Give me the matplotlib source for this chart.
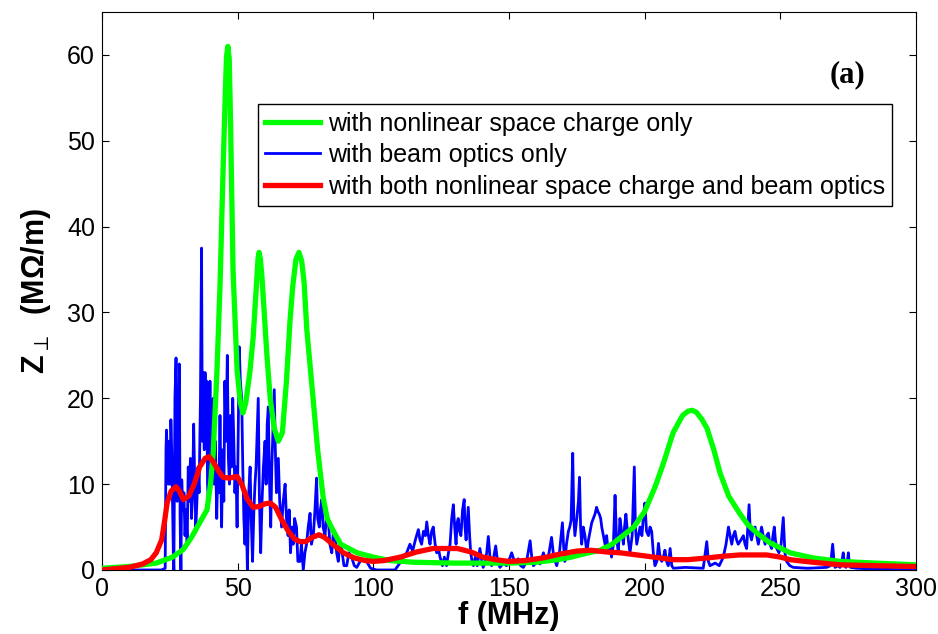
import matplotlib
matplotlib.use("Agg")
import matplotlib.pyplot as plt
import numpy as np

# green: nonlinear space charge only
green_f = [0, 10, 20, 26, 30, 33, 36, 38.7, 40, 41, 42.4, 43.5, 44.5, 45.5, 45.9, 46.4,
           46.9, 47.4, 48.3, 49.8, 51, 52, 53, 54.5, 55.7, 57, 57.5, 57.9, 58.4, 59,
           60.8, 62, 63.5, 65, 66.5, 68, 69.3, 70.3, 71.5, 72.6, 73.6, 74.5, 75.5, 77.8,
           79.5, 81.5, 83, 85, 88, 94, 100, 106, 115, 130, 150, 160, 168, 173, 178,
           183.6, 188, 192, 196, 200, 204, 207, 210.5, 214, 216, 217.5, 219, 221, 223,
           225.5, 227.8, 231, 235, 238, 241.4, 246, 253.6, 262, 272, 285, 300]
green_z = [0.2, 0.4, 0.8, 1.5, 2.4, 3.8, 5.5, 7, 10, 13.6, 23.3, 33, 45, 56, 59.8, 61,
           59.6, 52, 35, 23.3, 19.5, 18.3, 19.5, 23, 27, 33.5, 36.2, 37, 36.2, 34,
           25, 20, 16.5, 15, 16, 22, 29, 33, 36.2, 37, 36, 33.5, 28, 20,
           14, 8.5, 6, 4.7, 3, 2, 1.5, 1.1, 0.9, 0.8, 0.8, 0.9, 1.2, 1.5, 1.9,
           2.3, 3, 4, 5, 6.8, 9.8, 12.5, 16, 18, 18.5, 18.6, 18.4, 17.6, 16.5,
           14, 11.3, 8.6, 6.6, 5.3, 4.3, 3.2, 2.0, 1.4, 1.0, 0.8, 0.6]

# blue: beam optics only, (f, Z) readings
blue_pts = [
    (0, 0), (22, 0), (23.3, 0.2), (23.6, 14), (23.8, 16.3), (24.2, 12), (24.5, 10),
    (24.8, 15), (25.1, 10), (25.4, 17.5), (25.7, 14), (26.0, 8), (26.3, 2), (26.5, 0),
    (26.9, 20), (27.3, 24.7), (27.7, 8), (28.1, 12), (28.5, 24), (28.8, 6), (29.1, 0),
    (29.4, 10.5), (29.8, 7), (30.2, 9), (30.6, 4), (31.0, 7), (31.4, 3), (31.8, 12),
    (32.2, 8), (32.6, 13), (33.0, 6), (33.4, 9), (33.8, 17), (34.2, 10), (34.6, 5),
    (35.0, 8), (35.4, 12), (35.8, 9), (36.3, 20), (36.7, 37.5), (37.0, 15), (37.3, 23),
    (37.7, 14), (38.0, 23), (38.3, 17), (38.6, 22), (38.9, 10), (39.2, 8), (39.5, 15),
    (39.8, 22), (40.1, 14), (40.4, 12), (40.7, 18), (41.0, 20), (41.4, 10), (41.8, 15),
    (42.3, 6), (42.7, 12), (43.1, 9), (43.5, 18), (43.8, 11), (44.1, 5), (44.5, 14),
    (44.9, 8), (45.3, 22), (45.7, 15), (46.2, 25), (46.6, 13), (47.0, 10), (47.4, 18),
    (47.8, 12), (48.2, 20), (48.6, 15), (49.0, 9), (49.4, 12), (49.8, 5), (50.2, 16),
    (50.6, 26), (51.0, 22), (51.5, 20), (51.9, 12), (52.3, 6), (52.7, 3), (53.1, 8),
    (53.6, 0), (54.1, 9), (54.6, 12), (55.0, 6), (55.5, 1), (56.0, 7), (56.4, 10),
    (56.8, 12), (57.2, 16), (57.6, 20), (58.0, 9), (58.5, 2), (59.0, 8), (59.5, 12),
    (60.1, 15), (60.5, 10), (60.9, 17), (61.3, 19), (61.7, 11), (62.2, 5), (62.6, 12),
    (63.0, 16), (63.5, 21), (63.9, 14), (64.3, 9), (65.0, 13), (65.5, 8), (66.2, 5),
    (66.8, 8), (67.5, 10), (68.0, 6), (68.6, 4), (69.0, 7), (69.5, 2), (70.0, 5),
    (70.5, 3), (71.0, 6), (71.7, 5), (72.2, 1), (73.0, 1), (73.5, 3), (74.2, 0),
    (74.8, 2), (75.4, 3), (76.0, 5), (76.7, 6.6), (77.2, 3), (77.9, 4), (78.5, 7),
    (79.1, 10.7), (79.5, 6), (80.1, 5), (80.5, 7), (81.0, 8.2), (81.5, 5), (82.2, 4),
    (82.8, 6.5), (83.4, 6), (84.0, 3), (84.7, 2), (85.3, 4.5), (85.9, 4), (86.5, 2),
    (87.1, 1), (87.7, 3), (88.3, 2.5), (89.2, 0.5), (90.2, 0.5), (91.0, 2), (92.0, 1.5),
    (93.0, 0.5), (93.9, 0.3), (95.5, 1.2), (97.5, 1), (99, 0.2), (101.2, 0), (108, 0),
    (109.8, 0.8), (111, 1.5), (112.3, 2), (113.5, 3), (114.5, 2.2), (115.5, 3.5),
    (116.6, 4.7), (117.2, 3.5), (117.8, 3), (118.5, 4.5), (119.2, 4), (119.7, 5.6),
    (120.3, 4), (120.9, 3), (121.5, 4.5), (122.1, 5), (122.8, 3), (123.4, 2), (124, 2.5),
    (124.6, 1.5), (125.5, 0.5), (126.2, 1.5), (127.0, 0.5), (127.7, 2), (128.3, 3),
    (128.9, 6), (129.5, 7.6), (130.0, 5), (130.5, 3), (130.9, 5.5), (131.3, 6),
    (131.8, 4.5), (132.3, 4), (132.9, 7), (133.5, 8.2), (133.8, 5), (134.2, 3.5),
    (134.6, 5.5), (135.0, 7.3), (135.5, 4), (135.9, 2), (136.4, 1), (136.9, 0.5),
    (137.6, 1.5), (138.3, 0.5), (139.3, 2.5), (140.0, 1), (140.5, 0.3), (141.2, 1),
    (141.8, 2), (142.4, 3.9), (143.0, 1.5), (143.6, 0.5), (144.4, 1.5), (145.1, 2.8),
    (145.8, 1), (146.7, 0.3), (147.9, 0.8), (149.1, 0.5), (150.1, 1.2), (151.0, 2),
    (152.2, 0.8), (153.4, 1.3), (154.3, 0.5), (155.3, 0.3), (156.5, 1), (157.8, 3.4),
    (158.4, 1.5), (159.0, 0.5), (160.5, 1), (161.5, 0.7), (162.7, 2), (163.5, 1),
    (164.5, 1.5), (165.7, 3.8), (166.5, 1.5), (167.6, 0.5), (168.6, 2), (169.7, 5.5),
    (170.2, 2.5), (170.6, 1), (171.2, 3), (171.9, 4.5), (172.4, 5), (172.9, 5.8),
    (173.5, 13.6), (173.9, 6), (174.3, 4), (175.0, 6), (175.6, 8), (176.0, 10.8),
    (176.4, 5), (176.8, 3), (177.4, 5), (178.0, 4), (178.7, 2), (179.3, 3.5),
    (179.9, 4.5), (180.5, 5.5), (181.1, 6), (181.7, 6.5), (182.3, 7.3), (182.8, 6.8),
    (183.3, 6.5), (183.8, 6), (184.2, 5), (184.8, 4), (185.4, 3), (186.0, 4), (186.6, 2),
    (187.2, 3), (187.8, 1.5), (188.5, 3), (189.1, 8.7), (189.6, 4), (190.3, 2),
    (190.9, 6), (191.5, 4.5), (192.2, 3), (192.6, 5), (193.1, 6.5), (193.8, 4),
    (194.6, 2), (195.4, 4), (196.2, 12), (196.6, 5), (197.1, 3), (197.7, 4), (198.3, 5),
    (199.0, 4), (199.5, 6), (200.1, 7.8), (200.7, 4.5), (201.4, 4), (202.0, 5),
    (202.6, 4.5), (203.2, 2), (203.8, 0.5), (204.5, 1), (205.1, 3.1), (205.7, 1.5),
    (206.3, 1), (206.9, 1.5), (207.5, 2.3), (208.1, 1), (208.7, 0.5), (209.4, 2.5),
    (210.0, 0.5), (210.6, 0.2), (215, 0.3), (221.6, 0.2), (222.9, 3.3), (223.5, 1),
    (224.1, 0.5), (226, 0.8), (227.5, 0.5), (229.0, 1.5), (230.0, 3), (230.9, 5),
    (231.5, 4), (232.1, 3), (232.7, 4), (233.3, 4.5), (233.9, 3.5), (234.5, 3),
    (235.5, 3.5), (236.4, 4), (237.0, 3), (237.6, 2.5), (238.5, 7.6), (239.0, 4),
    (239.4, 3.5), (240.0, 4.5), (240.7, 5), (241.3, 4), (241.9, 3), (242.5, 4),
    (243.1, 5), (243.7, 4), (244.4, 3), (245.0, 4), (245.6, 4.3), (246.2, 3),
    (246.8, 2.5), (247.3, 4), (247.8, 5), (248.2, 3.5), (248.7, 2.5), (249.5, 2),
    (250.3, 3), (251.1, 6.1), (251.7, 2), (252.3, 1), (253.5, 0.5), (254.8, 0.3),
    (260, 0.2), (267.1, 0.3), (268.5, 0.5), (269.3, 3), (269.8, 1), (270.2, 0.3),
    (271.1, 0.5), (272.0, 0.3), (272.7, 1), (273.2, 2), (273.7, 0.5), (274.2, 0.3),
    (274.7, 1), (275.1, 2), (275.5, 0.5), (275.9, 0.3), (278.1, 0.2), (285, 0.1), (300, 0),
]
blue_f = [p[0] for p in blue_pts]
blue_z = [p[1] for p in blue_pts]

# red: both nonlinear space charge and beam optics
red_f = [0, 10, 15, 18, 20, 22, 23, 24, 25.5, 27.3, 28.5, 30, 32, 34, 36, 38, 39.5,
         41, 43, 44.6, 47, 49.8, 51.5, 53.5, 55.7, 58, 60, 62, 64, 66, 68.5, 71, 73,
         75, 77.5, 80, 82, 85, 89, 93, 97, 100, 104, 110, 116, 122, 131, 136, 140.4,
         145, 150, 156, 162.5, 168, 175, 180, 186, 191, 196, 201, 205.7, 210.5, 216,
         223, 229, 235, 245, 250, 253.6, 262, 272, 285, 300]
red_z = [0, 0.3, 0.7, 1.2, 2, 3.5, 5.5, 7.8, 9.2, 9.7, 9.2, 8.2, 8.6, 10, 12, 13, 13.2,
         12.6, 11.5, 10.8, 10.7, 10.9, 10, 8.3, 7.3, 7.4, 7.7, 7.8, 7.3, 6, 4.6, 3.6, 3.3,
         3.3, 3.8, 4.1, 3.8, 3, 2, 1.4, 1.1, 1.0, 1.1, 1.5, 2.1, 2.5, 2.5, 2.1, 1.5,
         1.2, 1.0, 1.1, 1.4, 1.8, 2.2, 2.3, 2.1, 2.0, 1.8, 1.6, 1.4, 1.2, 1.2,
         1.4, 1.6, 1.75, 1.75, 1.5, 1.2, 0.9, 0.6, 0.5, 0.4]

plt.rcParams['font.family'] = ['Liberation Sans', 'DejaVu Sans']

fig = plt.figure(figsize=(9.38, 6.34), dpi=100)
ax = fig.add_axes([0.1087, 0.101, 0.8678, 0.880])

ax.plot(green_f, green_z, color="#00ff00", lw=3.8, zorder=3,
        label="with nonlinear space charge only", solid_joinstyle="round")
ax.plot(blue_f, blue_z, color="#0000ff", lw=2.0, zorder=2,
        label="with beam optics only")
ax.plot(red_f, red_z, color="#ff0000", lw=3.8, zorder=4,
        label="with both nonlinear space charge and beam optics", solid_joinstyle="round")

ax.set_xlim(0, 300)
ax.set_ylim(0, 65)
ax.set_xticks(np.arange(0, 301, 50))
ax.set_yticks(np.arange(0, 61, 10))
ax.tick_params(direction="in", top=True, right=True, labelsize=18, length=5, pad=5)

ax.set_xlabel("f (MHz)", fontsize=22, fontweight="bold", labelpad=0)
ax.set_ylabel("Z$_\\perp$  (MΩ/m)", fontsize=22, fontweight="bold", labelpad=10)

ax.text(0.916, 0.887, "(a)", transform=ax.transAxes, fontsize=22, fontweight="bold",
        family="Liberation Serif", ha="center", va="center")

leg = ax.legend(loc="upper right", bbox_to_anchor=(0.971, 0.835), fontsize=18,
                fancybox=False, framealpha=1, edgecolor="black", handlelength=2.2,
                borderpad=0.3, labelspacing=0.3, handletextpad=0.3, borderaxespad=0)
leg.get_frame().set_linewidth(1.0)

plt.savefig("out.png", dpi=100)
